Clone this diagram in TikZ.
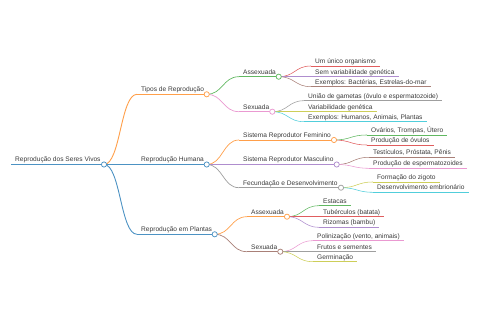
\documentclass[tikz,border=0pt]{standalone}
\usepackage{fontspec}
\setmainfont{Liberation Sans}
\usetikzlibrary{calc}
\definecolor{k0}{HTML}{1F77B4}
\definecolor{k1}{HTML}{FF7F0E}
\definecolor{k2}{HTML}{2CA02C}
\definecolor{k3}{HTML}{D62728}
\definecolor{k4}{HTML}{9467BD}
\definecolor{k5}{HTML}{8C564B}
\definecolor{k6}{HTML}{E377C2}
\definecolor{k7}{HTML}{7F7F7F}
\definecolor{k8}{HTML}{BCBD22}
\definecolor{k9}{HTML}{17BECF}
\definecolor{txt}{HTML}{3A3A3A}
% #1 name, #2 text start x, #3 line y, #4 text
\newcommand\mmtext[4]{%
  \node[lbl] (#1) at (#2,#3-2.5) {#4};
  \coordinate (#1-s) at (#2-4,#3);}
% #1 name, #2 parent point, #3 colour, #4 width
\newcommand\mmedge[4]{%
  \draw[#3, line width=#4] let \p1=(#2), \p2=(#1-s) in
    (#2) .. controls ({0.5*\x1+0.5*\x2},\y1) and ({0.5*\x1+0.5*\x2},\y2) .. (#1-s);}
% leaf: #1 name, #2 parent dot, #3 text x, #4 y, #5 colour, #6 text
\newcommand\mmleaf[6]{%
  \mmtext{#1}{#3}{#4}{#6}
  \coordinate (#1-e) at ($(#1.base east)+(4,2.5)$);
  \mmedge{#1}{#2}{#5!75!white}{0.55pt}
  \draw[#5!75!white, line width=0.55pt] (#1-s) -- (#1-e);}
\begin{document}
\begin{tikzpicture}[x=1pt,y=-1pt,
  lbl/.style={font=\fontsize{6.6}{7}\selectfont, text=txt, inner sep=0pt, anchor=base west},
  dot/.style={circle, fill=white, inner sep=0pt, minimum size=5.2pt, line width=0.75pt}]
\useasboundingbox (0,0) rectangle (480,320);

% root
\mmtext{root}{15}{164.5}{Reprodução dos Seres Vivos}
\coordinate (root-d) at (104,164.5);
\draw[k0!80!white, line width=1.1pt] (root-s) -- (root-d);

% level 1
\mmtext{tipos}{141}{94.3}{Tipos de Reprodução}
\coordinate (tipos-d) at (206.7,94.3);
\mmedge{tipos}{root-d}{k1!75!white}{0.9pt}
\draw[k1!75!white, line width=0.9pt] (tipos-s) -- (tipos-d);

\mmtext{hum}{141}{164.5}{Reprodução Humana}
\coordinate (hum-d) at (206.7,164.5);
\draw[k0!80!white, line width=0.9pt] (root-d) -- (hum-d);

\mmtext{pla}{141}{234.3}{Reprodução em Plantas}
\coordinate (pla-d) at (214.7,234.3);
\mmedge{pla}{root-d}{k0!80!white}{0.9pt}
\draw[k0!80!white, line width=0.9pt] (pla-s) -- (pla-d);

% level 2
\mmtext{ta}{243}{76.7}{Assexuada}
\coordinate (ta-d) at (278.7,76.7);
\mmedge{ta}{tipos-d}{k2!75!white}{0.7pt}
\draw[k2!75!white, line width=0.7pt] (ta-s) -- (ta-d);

\mmtext{ts}{243}{111.7}{Sexuada}
\coordinate (ts-d) at (272.3,111.7);
\mmedge{ts}{tipos-d}{k6!75!white}{0.7pt}
\draw[k6!75!white, line width=0.7pt] (ts-s) -- (ts-d);

\mmtext{hf}{243}{140}{Sistema Reprodutor Feminino}
\coordinate (hf-d) at (334,140);
\mmedge{hf}{hum-d}{k1!75!white}{0.7pt}
\draw[k1!75!white, line width=0.7pt] (hf-s) -- (hf-d);

\mmtext{hm}{243}{164.5}{Sistema Reprodutor Masculino}
\coordinate (hm-d) at (336.7,164.5);
\draw[k4!75!white, line width=0.7pt] (hum-d) -- (hm-d);

\mmtext{hd}{243}{187.7}{Fecundação e Desenvolvimento}
\coordinate (hd-d) at (341,187.7);
\mmedge{hd}{hum-d}{k7!75!white}{0.7pt}
\draw[k7!75!white, line width=0.7pt] (hd-s) -- (hd-d);

\mmtext{pa}{251}{216.7}{Assexuada}
\coordinate (pa-d) at (287,216.7);
\mmedge{pa}{pla-d}{k1!75!white}{0.7pt}
\draw[k1!75!white, line width=0.7pt] (pa-s) -- (pa-d);

\mmtext{ps}{251}{251.7}{Sexuada}
\coordinate (ps-d) at (280.3,251.7);
\mmedge{ps}{pla-d}{k5!75!white}{0.7pt}
\draw[k5!75!white, line width=0.7pt] (ps-s) -- (ps-d);

% leaves
\mmleaf{ta1}{ta-d}{315}{66}{k3}{Um único organismo}
\mmleaf{ta2}{ta-d}{315}{76.7}{k4}{Sem variabilidade genética}
\mmleaf{ta3}{ta-d}{315}{86.7}{k5}{Exemplos: Bactérias, Estrelas-do-mar}

\mmleaf{ts1}{ts-d}{308}{100.7}{k7}{União de gametas (óvulo e espermatozoide)}
\mmleaf{ts2}{ts-d}{308}{111.7}{k8}{Variabilidade genética}
\mmleaf{ts3}{ts-d}{308}{121.7}{k9}{Exemplos: Humanos, Animais, Plantas}

\mmleaf{hf1}{hf-d}{371}{135}{k2}{Ovários, Trompas, Útero}
\mmleaf{hf2}{hf-d}{371}{145}{k3}{Produção de óvulos}

\mmleaf{hm1}{hm-d}{373}{157.3}{k5}{Testículos, Próstata, Pênis}
\mmleaf{hm2}{hm-d}{373}{168.3}{k6}{Produção de espermatozoides}

\mmleaf{hd1}{hd-d}{377}{182}{k8}{Formação do zigoto}
\mmleaf{hd2}{hd-d}{377}{192.3}{k9}{Desenvolvimento embrionário}

\mmleaf{pa1}{pa-d}{323}{205.7}{k2}{Estacas}
\mmleaf{pa2}{pa-d}{323}{216.7}{k3}{Tubérculos (batata)}
\mmleaf{pa3}{pa-d}{323}{227.3}{k4}{Rizomas (bambu)}

\mmleaf{ps1}{ps-d}{317}{240.7}{k6}{Polinização (vento, animais)}
\mmleaf{ps2}{ps-d}{317}{251.7}{k7}{Frutos e sementes}
\mmleaf{ps3}{ps-d}{317}{261.7}{k8}{Germinação}

% dots
\node[dot, draw=k0!80!white] at (root-d) {};
\node[dot, draw=k1!75!white] at (tipos-d) {};
\node[dot, draw=k0!80!white] at (hum-d) {};
\node[dot, draw=k0!80!white] at (pla-d) {};
\node[dot, draw=k2!75!white] at (ta-d) {};
\node[dot, draw=k6!75!white] at (ts-d) {};
\node[dot, draw=k1!75!white] at (hf-d) {};
\node[dot, draw=k4!75!white] at (hm-d) {};
\node[dot, draw=k7!75!white] at (hd-d) {};
\node[dot, draw=k1!75!white] at (pa-d) {};
\node[dot, draw=k5!75!white] at (ps-d) {};
\end{tikzpicture}
\end{document}
